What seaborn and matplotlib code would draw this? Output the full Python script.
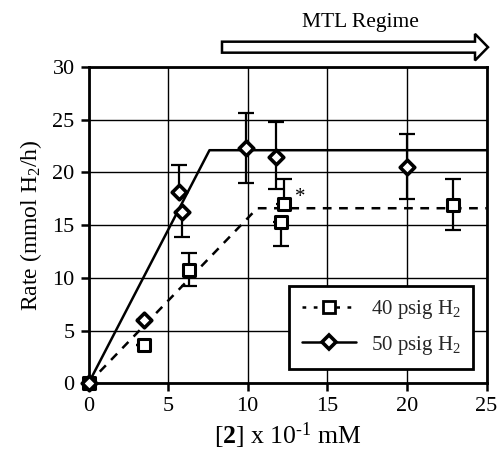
import numpy as np
import pandas as pd
import matplotlib.pyplot as plt
import matplotlib.patches as patches
from matplotlib.lines import Line2D
import seaborn as sns

# measured points, 50 psig H2 (diamonds)
x50 = [0, 3.5, 5.7, 5.9, 9.9, 11.8, 20.0]
y50 = [0, 6.0, 18.1, 16.2, 22.3, 21.5, 20.5]
lo50 = [0, 0, 0, 2.3, 3.3, 3.1, 3.0]
hi50 = [0, 0, 2.6, 0, 3.3, 3.3, 3.1]

# measured points, 40 psig H2 (squares)
x40 = [0, 3.5, 6.3, 12.1, 12.3, 22.9]
y40 = [0, 3.6, 10.7, 15.3, 17.0, 16.9]
lo40 = [0, 0, 1.5, 2.3, 0, 2.4]
hi40 = [0, 0, 1.7, 0, 2.4, 2.5]

# model lines
fit50_x = [0, 7.6, 25]
fit50_y = [0, 22.1, 22.1]
fit40_x = [0, 10.6, 25]
fit40_y = [0, 16.6, 16.6]

xticks = [0, 5, 10, 15, 20, 25]
yticks = [0, 5, 10, 15, 20, 25, 30]

sns.set_theme(style="white")
plt.rcParams['font.family'] = ['Liberation Serif', 'DejaVu Serif']
plt.rcParams['mathtext.fontset'] = 'custom'
plt.rcParams['mathtext.rm'] = 'Liberation Serif'
plt.rcParams['mathtext.bf'] = 'Liberation Serif:bold'
plt.rcParams['mathtext.it'] = 'Liberation Serif:italic'

fig, ax = plt.subplots(figsize=(5, 4.58), dpi=100)
fig.subplots_adjust(left=0.177, right=0.973, top=0.854, bottom=0.163)

ax.set_xlim(0, 25)
ax.set_ylim(0, 30)
ax.set_xticks(xticks)
ax.set_yticks(yticks)
ax.grid(True, color='black', linewidth=1.0)
ax.set_axisbelow(True)
for s in ax.spines.values():
    s.set_color('black')
    s.set_linewidth(2)
ax.tick_params(axis='both', direction='out', length=6, width=1.8, color='black',
               labelsize=16, labelcolor='black', pad=4, bottom=True, left=True)

# fit lines
sns.lineplot(x=fit40_x, y=fit40_y, ax=ax, color='black', linewidth=1.8,
             linestyle=(0, (3.5, 3)), zorder=3)
sns.lineplot(x=fit50_x, y=fit50_y, ax=ax, color='black', linewidth=1.8, zorder=3)

# error bars
ax.errorbar(x40, y40, yerr=[lo40, hi40], fmt='none', ecolor='black',
            elinewidth=1.6, capsize=6, capthick=1.6, zorder=4)
ax.errorbar(x50, y50, yerr=[lo50, hi50], fmt='none', ecolor='black',
            elinewidth=1.6, capsize=6, capthick=1.6, zorder=4)

# markers
sns.scatterplot(x=x40, y=y40, ax=ax, marker='s', s=85, facecolor='white',
                edgecolor='black', linewidth=2.2, zorder=5, clip_on=False)
sns.scatterplot(x=x50, y=y50, ax=ax, marker='D', s=55, facecolor='white',
                edgecolor='black', linewidth=2.6, zorder=6, clip_on=False)

ax.text(13.0, 17.6, '*', fontsize=15, color='black', ha='left', va='center')

ax.set_xlabel(r'[$\mathbf{2}$] x 10$^{\text{-1}}$ mM', fontsize=18.5, color='black', labelpad=3)
ax.set_ylabel(r'Rate (mmol H$_2$/h)', fontsize=17, color='black', labelpad=6)

handles = [
    Line2D([0], [0], color='black', linewidth=1.8, linestyle=(0, (1.5, 3)),
           marker='s', markersize=9, markerfacecolor='white',
           markeredgecolor='black', markeredgewidth=2),
    Line2D([0], [0], color='black', linewidth=1.8, marker='D', markersize=7,
           markerfacecolor='white', markeredgecolor='black', markeredgewidth=2.6),
]
leg = ax.legend(handles, [r'40 psig H$_2$', r'50 psig H$_2$'], loc='lower right',
                bbox_to_anchor=(0.966, 0.045), borderaxespad=0, fontsize=15,
                frameon=True, fancybox=False, framealpha=1, edgecolor='black',
                handlelength=2.6, handletextpad=0.7, borderpad=0.6, labelspacing=0.6)
leg.get_frame().set_linewidth(2)
leg.set_zorder(10)

# MTL regime arrow above the plot
arrow = patches.FancyArrow(0.444, 0.897, 0.976 - 0.444, 0, width=0.024,
                           head_width=0.058, head_length=0.026,
                           length_includes_head=True, facecolor='white',
                           edgecolor='black', linewidth=1.8,
                           transform=fig.transFigure)
fig.patches.append(arrow)
fig.text(0.72, 0.95, 'MTL Regime', fontsize=15.5, color='black', ha='center', va='center')

plt.savefig('out.png', dpi=100)
